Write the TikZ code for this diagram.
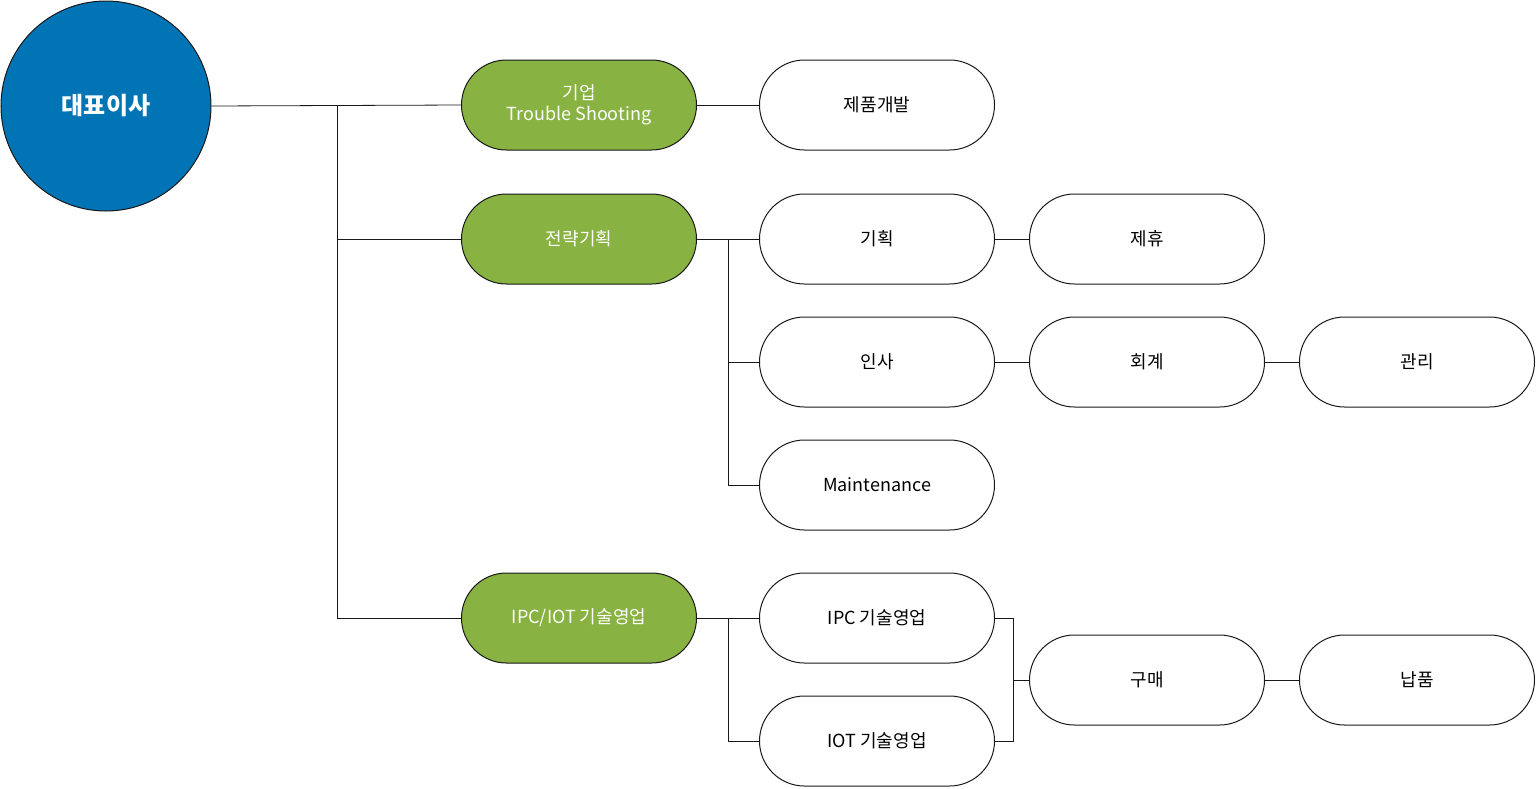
\documentclass[tikz,border=0pt]{standalone}
\usepackage{fontspec}
\setmainfont{Noto Sans CJK KR}
\definecolor{ceo}{HTML}{0074B4}
\definecolor{grn}{HTML}{88B241}
\begin{document}
\begin{tikzpicture}[x=1pt,y=-1pt,
  pill/.style={draw=black!90,line width=1pt,rounded corners=45pt,minimum width=235pt,minimum height=90pt,inner sep=0pt,align=center,font=\fontsize{18}{21}\selectfont},
  gpill/.style={pill,fill=grn,text=white},
  wpill/.style={pill,fill=white},
  ln/.style={line width=0.8pt,black!90}]
\useasboundingbox (0,0) rectangle (1536,788);
\node[circle,draw=black!90,line width=1pt,fill=ceo,minimum size=210pt,text=white,font=\fontsize{24}{28}\selectfont\bfseries] (ceo) at (106,106) {대표이사};
\node[gpill] (g1) at (579,105) {기업\\Trouble Shooting};
\node[gpill] (g2) at (579,239) {전략기획};
\node[gpill] (g3) at (579,618) {IPC/IOT 기술영업};
\node[wpill] (a1) at (877,105) {제품개발};
\node[wpill] (a2) at (877,239) {기획};
\node[wpill] (a3) at (877,362) {인사};
\node[wpill] (a4) at (877,485) {Maintenance};
\node[wpill] (a5) at (877,618) {IPC 기술영업};
\node[wpill] (a6) at (877,741) {IOT 기술영업};
\node[wpill] (b1) at (1147,239) {제휴};
\node[wpill] (b2) at (1147,362) {회계};
\node[wpill] (b3) at (1147,680) {구매};
\node[wpill] (c1) at (1417,362) {관리};
\node[wpill] (c2) at (1417,680) {납품};
\coordinate (v1) at (337,105);
\coordinate (v2) at (728,239);
\coordinate (v3) at (728,618);
\coordinate (v4) at (1013,618);
\draw[ln] (ceo.east) -- (g1.west);
\draw[ln] (v1) |- (g3.west);
\draw[ln] (v1 |- g2.west) -- (g2.west);
\draw[ln] (g1.east) -- (a1.west);
\draw[ln] (g2.east) -- (a2.west);
\draw[ln] (v2) |- (a4.west);
\draw[ln] (v2 |- a3.west) -- (a3.west);
\draw[ln] (g3.east) -- (a5.west);
\draw[ln] (v3) |- (a6.west);
\draw[ln] (a5.east) -| (v4) |- (a6.east);
\draw[ln] (v4 |- b3.west) -- (b3.west);
\draw[ln] (a2) -- (b1);
\draw[ln] (a3) -- (b2);
\draw[ln] (b2) -- (c1);
\draw[ln] (b3) -- (c2);
\end{tikzpicture}
\end{document}
